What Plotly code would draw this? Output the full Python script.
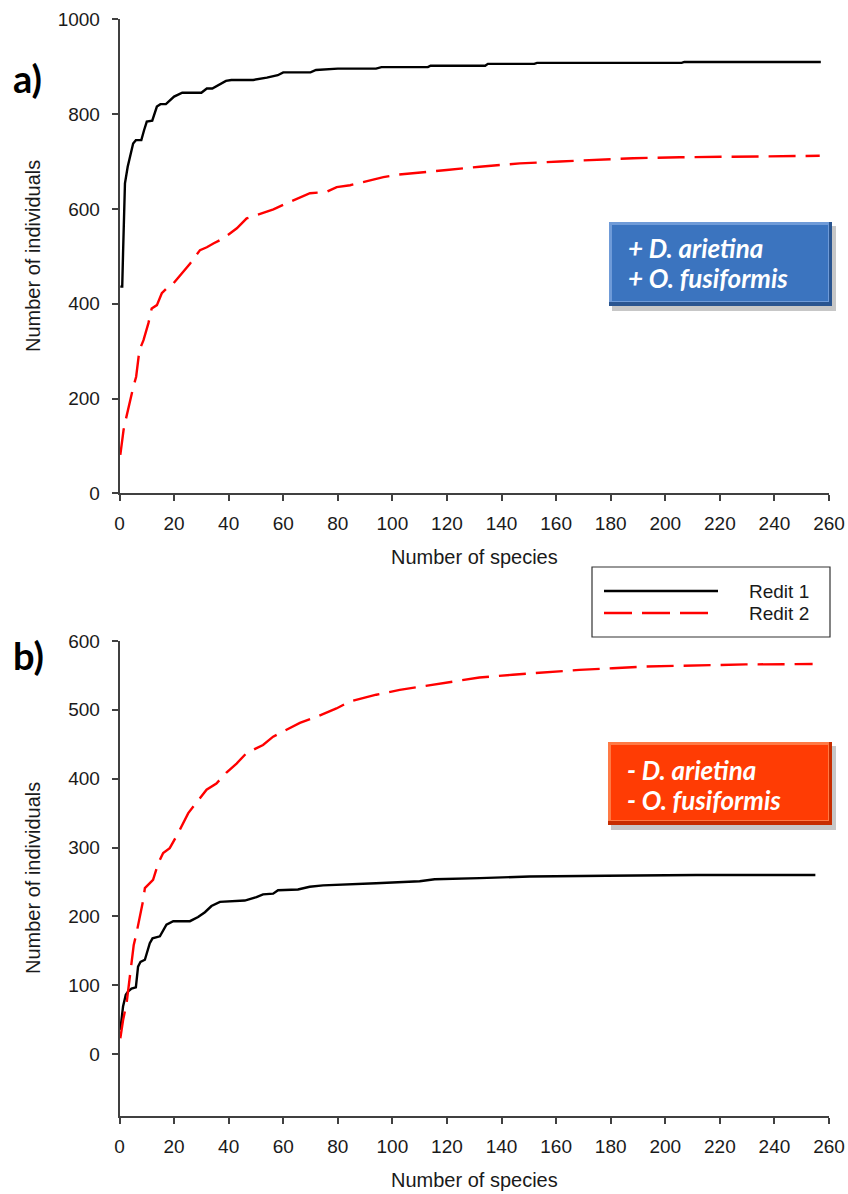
import plotly.graph_objects as go

W, H = 848, 1194

# ---------------- data ----------------
species_a_redit1 = [0.3, 1.0, 1.3, 2.0, 3.0, 4.0, 5.0, 6.0, 8.0, 9.0, 10.0, 12.0, 13.7, 15.0, 17.0, 20.0,
                    23.0, 30.0, 32.0, 34.0, 39.0, 41.0, 49.0, 54.0, 58.0, 60.0, 70.0, 72.0, 80.0, 94.0,
                    96.0, 113.0, 114.0, 134.0, 135.0, 152.0, 153.0, 206.0, 207.0, 257.0]
individuals_a_redit1 = [436, 436, 506, 654, 689, 717, 738, 745, 745, 766, 784, 786, 816, 821, 821, 837,
                        845, 845, 854, 854, 870, 872, 872, 877, 882, 888, 888, 893, 896, 896,
                        899, 899, 902, 902, 906, 906, 908, 908, 910, 910]

species_a_redit2 = [0.3, 1.5, 2.4, 3.9, 5.1, 6.1, 7.3, 8.8, 10.6, 11.8, 13.7, 15.5, 17.9, 19.8, 22.8,
                    25.9, 29.5, 32.0, 34.4, 38.1, 43.0, 46.6, 50.3, 56.4, 62.5, 69.8, 75.9, 79.6, 84.5,
                    91.8, 96.7, 101.6, 107.7, 119.9, 132.0, 146.7, 161.4, 174.8, 188.2, 205.3, 229.7,
                    241.9, 256.6]
individuals_a_redit2 = [81, 134, 158, 197, 225, 246, 302, 323, 359, 390, 397, 422, 436, 443, 464,
                        485, 513, 519, 527, 538, 559, 580, 587, 599, 615, 633, 636, 646, 650,
                        660, 667, 672, 675, 682, 689, 696, 700, 703, 707, 709, 710,
                        711, 712]

species_b_redit1 = [0.3, 1.3, 2.3, 3.2, 4.4, 6.0, 6.8, 7.7, 9.3, 11.1, 12.1, 14.8, 17.2, 19.7, 25.8,
                    28.8, 31.3, 33.7, 36.8, 45.9, 50.2, 52.6, 56.3, 58.1, 65.4, 69.7, 74.6, 84.4, 94.0,
                    110.0, 115.5, 132.0, 150.3, 178.4, 211.4, 255.0]
individuals_b_redit1 = [35, 69, 86, 91, 95, 97, 127, 134, 137, 161, 168, 171, 188, 193, 193,
                        199, 206, 215, 221, 223, 228, 232, 233, 238, 239, 243, 245, 246, 248,
                        251, 254, 255.5, 258, 259, 260, 260]

species_b_redit2 = [0.3, 1.3, 2.6, 3.5, 4.4, 5.2, 6.2, 7.7, 8.7, 9.3, 12.3, 14.2, 16.0, 18.4, 21.5,
                    25.2, 28.8, 31.9, 35.5, 39.2, 42.9, 46.5, 52.6, 56.3, 61.2, 66.1, 72.2, 79.5, 84.4,
                    89.3, 94.1, 102.7, 107.5, 119.7, 131.9, 144.1, 156.3, 168.5, 180.7, 192.9, 205.1,
                    217.3, 229.5, 254.0]
individuals_b_redit2 = [23, 49, 74, 103, 125, 158, 175, 204, 224, 241, 253, 277, 292, 299, 321,
                        350, 369, 384, 393, 409, 422, 437, 449, 461, 471, 481, 490, 502, 512,
                        517, 522, 529, 532, 540, 547, 551, 555, 558, 560.5, 563, 564,
                        565, 566, 566.5]

series_names = ["Redit 1", "Redit 2"]
x_title = "Number of species"
y_title = "Number of individuals"
panel_labels = ["a)", "b)"]
box_a_lines = ["+ D. arietina", "+ O. fusiformis"]
box_b_lines = ["- D. arietina", "- O. fusiformis"]


def px(x):
    return x / W


def py(y):
    return 1 - y / H


BLACK = "#000000"
RED = "#ff0000"
DASH = "27px,10px"
AXC = "#404040"
TXT = "#1a1a1a"
FONT = "Liberation Sans, Arial, sans-serif"

fig = go.Figure()
fig.add_trace(go.Scatter(x=species_a_redit1, y=individuals_a_redit1, mode="lines", name=series_names[0],
                         line=dict(color=BLACK, width=2.4), xaxis="x", yaxis="y", showlegend=False))
fig.add_trace(go.Scatter(x=species_a_redit2, y=individuals_a_redit2, mode="lines", name=series_names[1],
                         line=dict(color=RED, width=2.4, dash=DASH), xaxis="x", yaxis="y", showlegend=False))
fig.add_trace(go.Scatter(x=species_b_redit1, y=individuals_b_redit1, mode="lines", name=series_names[0],
                         line=dict(color=BLACK, width=2.4), xaxis="x2", yaxis="y2", showlegend=False))
fig.add_trace(go.Scatter(x=species_b_redit2, y=individuals_b_redit2, mode="lines", name=series_names[1],
                         line=dict(color=RED, width=2.4, dash=DASH), xaxis="x2", yaxis="y2", showlegend=False))

axis_common = dict(showline=True, linecolor=AXC, linewidth=1.5, ticks="outside", ticklen=6,
                   tickcolor=AXC, tickwidth=1.5, showgrid=False, zeroline=False,
                   tickfont=dict(family=FONT, size=19, color=TXT), automargin=False)

x_dom = [px(119.5), px(829)]
fig.update_layout(
    width=W, height=H, margin=dict(l=0, r=0, t=0, b=0),
    paper_bgcolor="white", plot_bgcolor="white",
    xaxis=dict(domain=x_dom, range=[0, 260], dtick=20, tick0=0, anchor="y", ticklabelstandoff=6, **axis_common),
    yaxis=dict(domain=[py(493.3), py(19.3)], range=[0, 1000], dtick=200, tick0=0, anchor="x",
               ticklabelstandoff=8, **axis_common),
    xaxis2=dict(domain=x_dom, range=[0, 260], dtick=20, tick0=0, anchor="y2", ticklabelstandoff=6, **axis_common),
    yaxis2=dict(domain=[py(1116), py(641)], range=[-90, 600], dtick=100, tick0=0, anchor="x2",
                ticklabelstandoff=8, **axis_common),
    showlegend=False,
)

ann = []
# axis titles
for ty in (557, 1180):
    ann.append(dict(x=px(474), y=py(ty), xref="paper", yref="paper", text=x_title, showarrow=False,
                    font=dict(family=FONT, size=20, color=TXT), xanchor="center", yanchor="middle"))
for ty in (256, 878):
    ann.append(dict(x=px(33), y=py(ty), xref="paper", yref="paper", text=y_title, showarrow=False,
                    textangle=-90, font=dict(family=FONT, size=20, color=TXT),
                    xanchor="center", yanchor="middle"))
# panel labels
for lab, ty in zip(panel_labels, (78, 655)):
    ann.append(dict(x=px(11), y=py(ty), xref="paper", yref="paper", text="<b>%s</b>" % lab, showarrow=False,
                    font=dict(family="Lato, Open Sans, sans-serif", size=38, color="#000000"),
                    xanchor="left", yanchor="middle"))

shapes = []
# annotation boxes (blue and orange-red)
def add_box(x0, y0, x1, y1, fill, light, dark, lines, ly):
    shapes.append(dict(type="rect", xref="paper", yref="paper", x0=px(x0 + 3), x1=px(x1 + 4),
                       y0=py(y1 + 5), y1=py(y0 + 4), fillcolor="rgba(0,0,0,0.22)", line=dict(width=0),
                       layer="above"))
    shapes.append(dict(type="rect", xref="paper", yref="paper", x0=px(x0), x1=px(x1),
                       y0=py(y1), y1=py(y0), fillcolor=dark, line=dict(width=0), layer="above"))
    shapes.append(dict(type="rect", xref="paper", yref="paper", x0=px(x0), x1=px(x1 - 3),
                       y0=py(y1 - 4), y1=py(y0), fillcolor=light, line=dict(width=0), layer="above"))
    shapes.append(dict(type="rect", xref="paper", yref="paper", x0=px(x0 + 3), x1=px(x1 - 4),
                       y0=py(y1 - 5), y1=py(y0 + 3), fillcolor=fill, line=dict(width=0), layer="above"))
    for t, yy in zip(lines, ly):
        ann.append(dict(x=px(x0 + 17), y=py(yy), xref="paper", yref="paper",
                        text="<b><i>%s</i></b>" % t, showarrow=False,
                        font=dict(family="Lato, Open Sans, sans-serif", size=26, color="white"),
                        xanchor="left", yanchor="middle"))


add_box(609, 222, 832, 306, "#3b74bf", "#6f9bd8", "#2a5590", box_a_lines, (248, 278))
add_box(608, 742, 832, 825, "#ff3c04", "#ff7a45", "#c72d00", box_b_lines, (770, 800))

# legend (drawn box)
shapes.append(dict(type="rect", xref="paper", yref="paper", x0=px(592), x1=px(830), y0=py(637), y1=py(567),
                   line=dict(color="#333333", width=1.2), fillcolor="white"))
shapes.append(dict(type="line", xref="paper", yref="paper", x0=px(604), x1=px(718), y0=py(591), y1=py(591),
                   line=dict(color=BLACK, width=2.4)))
shapes.append(dict(type="line", xref="paper", yref="paper", x0=px(604), x1=px(718), y0=py(613), y1=py(613),
                   line=dict(color=RED, width=2.4, dash="28px,10px")))
for name, yy in zip(series_names, (591, 613)):
    ann.append(dict(x=px(747), y=py(yy), xref="paper", yref="paper", text=name, showarrow=False,
                    font=dict(family=FONT, size=19, color=TXT), xanchor="left", yanchor="middle"))

fig.update_layout(annotations=ann, shapes=shapes)
fig.write_html("out.html")
